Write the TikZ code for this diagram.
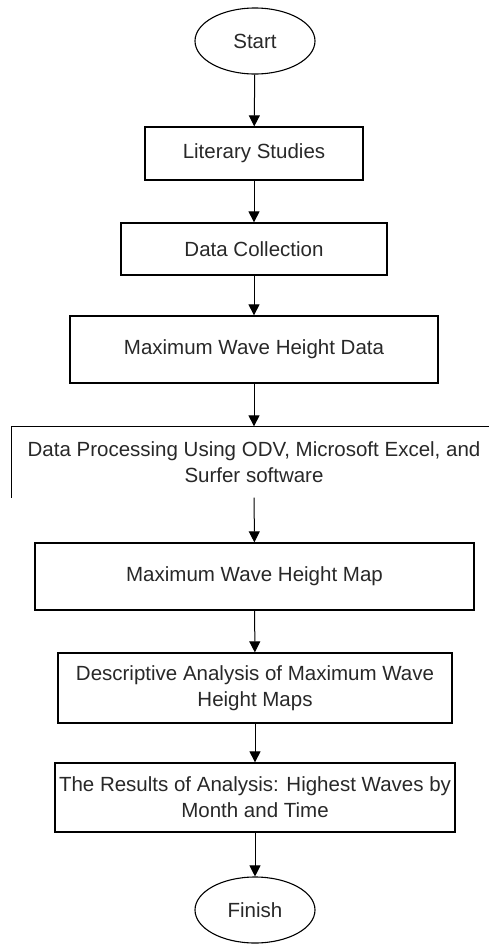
\documentclass[tikz,border=0pt]{standalone}
\usepackage{fontspec}
\setmainfont{Liberation Sans}
\usepackage{xcolor}
\usetikzlibrary{arrows.meta,shapes.geometric}
\definecolor{flowtext}{RGB}{40,40,40}

\tikzset{
  stepbox/.style={draw, line width=1.3pt, inner sep=0pt, align=center,
    text=flowtext, font=\fontsize{20.5}{26}\selectfont},
  openbox/.style={stepbox, draw=none},
  termnode/.style={ellipse, draw, line width=1.1pt, inner sep=0pt,
    minimum width=120pt, minimum height=66pt, text=flowtext,
    font=\fontsize{20.5}{26}\selectfont},
  flow/.style={line width=1pt, -{Triangle[width=11pt,length=11pt]}}
}

\begin{document}
\begin{tikzpicture}[x=1pt,y=-1pt]
\useasboundingbox (0,0) rectangle (489,945);

% terminals
\node[termnode] (start) at (255,41) {Start};
\node[termnode] (finish) at (255,910) {Finish};

% steps
\node[stepbox, minimum width=218pt, minimum height=53pt] (lit) at (254,153.5) {Literary Studies};
\node[stepbox, minimum width=266pt, minimum height=52pt] (coll) at (254,249) {Data Collection};
\node[stepbox, minimum width=368pt, minimum height=67pt] (wdata) at (254,349.5) {Maximum Wave Height Data};
\node[openbox, minimum width=484pt, minimum height=70pt] (proc) at (254,462)
  {Data Processing Using ODV, Microsoft Excel, and\\Surfer software};
\draw[line width=1.3pt] (proc.south west) -- (proc.north west) -- (proc.north east);
\node[stepbox, minimum width=439pt, minimum height=67pt] (wmap) at (254.5,576.5) {Maximum Wave Height Map};
\node[stepbox, minimum width=394pt, minimum height=70pt] (desc) at (255,688)
  {Descriptive Analysis of Maximum Wave\\Height Maps};
\node[stepbox, minimum width=400pt, minimum height=69pt] (res) at (255,797.5)
  {The Results of Analysis: Highest Waves by\\Month and Time};

% connectors
\draw[flow] (start) -- (lit);
\draw[flow] (lit) -- (coll);
\draw[flow] (coll) -- (wdata);
\draw[flow] (wdata) -- (proc);
\draw[flow] (proc) -- (wmap);
\draw[flow] (wmap) -- (desc);
\draw[flow] (desc) -- (res);
\draw[flow] (res) -- (finish);
\end{tikzpicture}
\end{document}
